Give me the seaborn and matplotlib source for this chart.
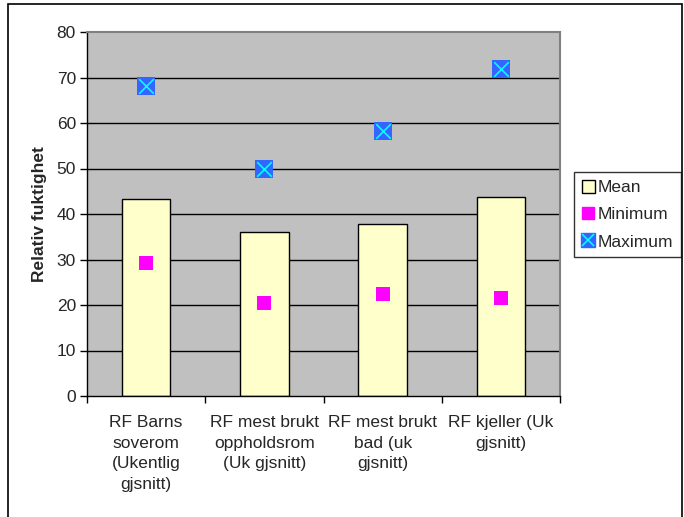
import numpy as np
import pandas as pd
import matplotlib
matplotlib.use('Agg')
import matplotlib.pyplot as plt
from matplotlib.patches import Rectangle, Patch
from matplotlib.lines import Line2D
from matplotlib.legend_handler import HandlerTuple
import seaborn as sns

# data
categories = ['RF Barns\nsoverom\n(Ukentlig\ngjsnitt)',
              'RF mest brukt\noppholdsrom\n(Uk gjsnitt)',
              'RF mest brukt\nbad (uk\ngjsnitt)',
              'RF kjeller (Uk\ngjsnitt)']
mean_vals = [43.2, 36.0, 37.8, 43.8]
min_vals = [29.2, 20.4, 22.4, 21.5]
max_vals = [68.2, 50.0, 58.3, 71.8]
y_ticks = [0, 10, 20, 30, 40, 50, 60, 70, 80]

sns.set_style('white')
plt.rcParams['font.family'] = ['Liberation Sans', 'DejaVu Sans']
FS = 12.5

df = pd.DataFrame({'cat': categories, 'mean': mean_vals,
                   'min': min_vals, 'max': max_vals})

fig = plt.figure(figsize=(6.84, 5.17), dpi=100)
ax = fig.add_axes([87 / 684, 1 - 396 / 517, 473 / 684, 364 / 517])
ax.set_facecolor('#C0C0C0')

# gridlines behind everything
for v in y_ticks[1:-1]:
    ax.axhline(v, color='black', lw=1.0, zorder=0.5)

sns.barplot(data=df, x='cat', y='mean', color='#FFFFCC', saturation=1,
            width=0.41, edgecolor='black', linewidth=1.0, ax=ax, zorder=2)

pos = np.arange(len(categories))
ax.scatter(pos, df['min'], marker='s', s=95, color='#FF00FF', zorder=3, linewidths=0)
ax.scatter(pos, df['max'], marker='s', s=175, color='#3366FF', zorder=3, linewidths=0)
ax.scatter(pos, df['max'], marker='x', s=110, color='#00FFFF', zorder=4, linewidths=1.2)

ax.set_xlim(-0.5, len(categories) - 0.5)
ax.set_ylim(0, 80)
ax.set_yticks(y_ticks)
ax.set_yticklabels([str(t) for t in y_ticks], fontsize=FS)
ax.tick_params(axis='y', direction='out', length=5, width=1, color='black', left=True, pad=3)

ax.set_xticks(np.arange(-0.5, len(categories), 1))
ax.set_xticklabels([''] * (len(categories) + 1))
ax.set_xticks(pos, minor=True)
ax.set_xticklabels(categories, minor=True, fontsize=FS, linespacing=1.45)
ax.tick_params(axis='x', which='major', direction='out', length=5, width=1, color='black', bottom=True)
ax.tick_params(axis='x', which='minor', length=0, pad=14)
ax.set_xlabel('')
ax.set_ylabel('Relativ fuktighet', fontsize=FS, fontweight='bold', labelpad=7)

for side in ['left', 'bottom']:
    ax.spines[side].set_color('black')
    ax.spines[side].set_linewidth(1.0)
for side in ['top', 'right']:
    ax.spines[side].set_color('#808080')
    ax.spines[side].set_linewidth(1.5)

handles = [
    Patch(facecolor='#FFFFCC', edgecolor='black', linewidth=1.0),
    Line2D([], [], marker='s', ls='none', color='#FF00FF', markersize=8),
    (Line2D([], [], marker='s', ls='none', color='#3366FF', markersize=10),
     Line2D([], [], marker='x', ls='none', color='#00FFFF', markersize=8, mew=1.2)),
]
leg = fig.legend(handles, ['Mean', 'Minimum', 'Maximum'],
                 loc='upper left', bbox_to_anchor=(574 / 684, 1 - 172 / 517),
                 fontsize=FS, frameon=True, fancybox=False, shadow=False,
                 handlelength=0.75, handleheight=0.75, handletextpad=0.15,
                 labelspacing=0.68, borderpad=0.45, borderaxespad=0,
                 handler_map={tuple: HandlerTuple(ndivide=1, pad=0)})
leg.get_frame().set_edgecolor('black')
leg.get_frame().set_linewidth(1.0)

# outer chart-area border
fig.patches.append(Rectangle((8 / 684, -0.05), 674 / 684, 1.05 - 4 / 517,
                             transform=fig.transFigure, fill=False,
                             edgecolor='black', linewidth=1.2))

fig.savefig('out.png', dpi=100)
